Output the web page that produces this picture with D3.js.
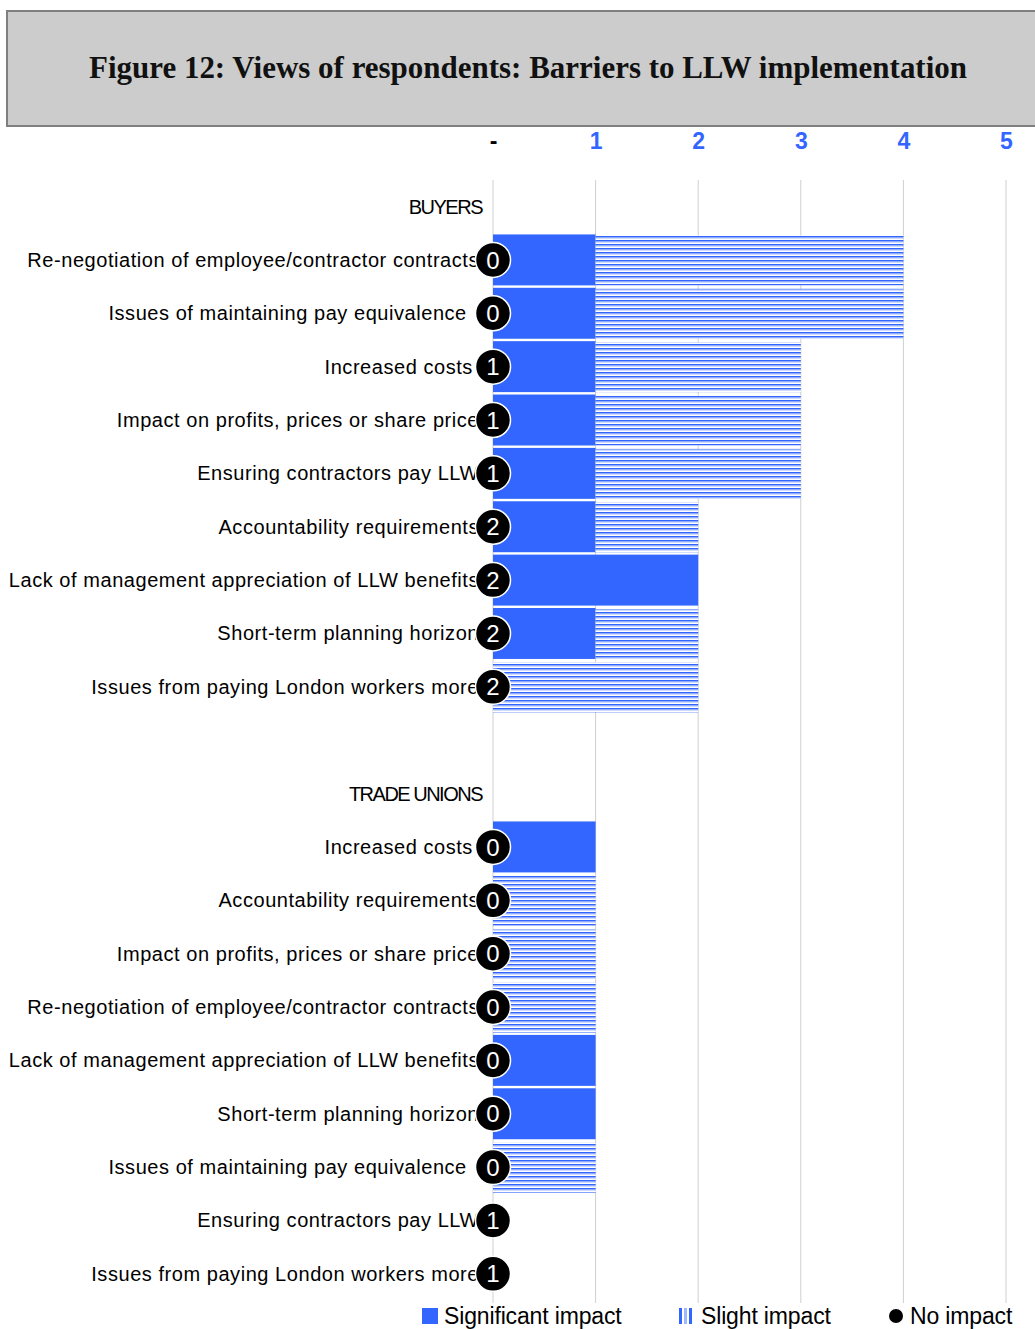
<!DOCTYPE html>
<html>
<head>
<meta charset="utf-8">
<script src="https://cdn.jsdelivr.net/npm/d3@7/dist/d3.min.js"></script>
<style>
  html, body { margin: 0; padding: 0; background: #fff; }
  svg { display: block; }
  text { font-family: "Liberation Sans", Arial, sans-serif; }
</style>
</head>
<body>
<svg id="chart" width="1035" height="1329"></svg>
<script>
// Survey responses: number of respondents rating each barrier
const groupNames = ["BUYERS", "TRADE UNIONS"];

const buyerBarriers = [
  "Re-negotiation of employee/contractor contracts",
  "Issues of maintaining pay equivalence  ",
  "Increased costs ",
  "Impact on profits, prices or share price",
  "Ensuring contractors pay LLW",
  "Accountability requirements",
  "Lack of management appreciation of LLW benefits",
  "Short-term planning horizon",
  "Issues from paying London workers more"
];
const buyerSignificant = [1, 1, 1, 1, 1, 1, 2, 1, 0];
const buyerSlight      = [3, 3, 2, 2, 2, 1, 0, 1, 2];
const buyerNone        = [0, 0, 1, 1, 1, 2, 2, 2, 2];

const unionBarriers = [
  "Increased costs ",
  "Accountability requirements",
  "Impact on profits, prices or share price",
  "Re-negotiation of employee/contractor contracts",
  "Lack of management appreciation of LLW benefits",
  "Short-term planning horizon",
  "Issues of maintaining pay equivalence  ",
  "Ensuring contractors pay LLW",
  "Issues from paying London workers more"
];
const unionSignificant = [1, 0, 0, 0, 1, 1, 0, 0, 0];
const unionSlight      = [0, 1, 1, 1, 0, 0, 1, 0, 0];
const unionNone        = [0, 0, 0, 0, 0, 0, 0, 1, 1];

const tickValues = [0, 1, 2, 3, 4, 5];
const tickLabels = ["-", "1", "2", "3", "4", "5"];
const legendLabels = ["Significant impact", "Slight impact", "No impact"];

const BLUE = "#3366ff";

// Build the row sequence: group header, its barriers, spacer, next group...
const rows = [];
rows.push({ key: "h0", type: "header", label: groupNames[0] });
buyerBarriers.forEach((b, i) => rows.push({ key: "b" + i, type: "bar", label: b,
  sig: buyerSignificant[i], slight: buyerSlight[i], none: buyerNone[i] }));
rows.push({ key: "gap", type: "gap", label: "" });
rows.push({ key: "h1", type: "header", label: groupNames[1] });
unionBarriers.forEach((b, i) => rows.push({ key: "u" + i, type: "bar", label: b,
  sig: unionSignificant[i], slight: unionSlight[i], none: unionNone[i] }));

const svg = d3.select("#chart");

// Striped fill for the "slight impact" segments
const defs = svg.append("defs");
const pat = defs.append("pattern")
  .attr("id", "stripes").attr("patternUnits", "userSpaceOnUse")
  .attr("width", 8).attr("height", 4);
pat.append("rect").attr("width", 8).attr("height", 4).attr("fill", "#ffffff");
pat.append("rect").attr("y", 0).attr("width", 8).attr("height", 1.6).attr("fill", BLUE);
pat.append("rect").attr("y", 1.6).attr("width", 8).attr("height", 0.9).attr("fill", "#9fb8fb");

// Title banner
svg.append("rect")
  .attr("x", 7).attr("y", 11).attr("width", 1040).attr("height", 115)
  .attr("fill", "#cccccc").attr("stroke", "#7f7f7f").attr("stroke-width", 2);
const title = svg.append("text")
  .attr("x", 528).attr("y", 78)
  .attr("text-anchor", "middle")
  .style("font-family", "'Liberation Serif', 'DejaVu Serif', serif")
  .style("font-weight", "bold")
  .style("font-size", "30px")
  .attr("fill", "#111")
  .text("Figure 12: Views of respondents: Barriers to LLW implementation");
const tw = title.node().getComputedTextLength();
title.style("font-size", (30 * 878 / tw).toFixed(2) + "px");

// Scales
const x = d3.scaleLinear().domain([0, 5]).range([493, 1006]);
const y = d3.scaleBand().domain(rows.map(r => r.key)).range([180, 1300.4]).paddingInner(0.045).paddingOuter(0.02);

// Vertical gridlines
svg.append("g").selectAll("line").data(tickValues).join("line")
  .attr("x1", d => x(d)).attr("x2", d => x(d))
  .attr("y1", 180).attr("y2", 1303)
  .attr("stroke", "#cfcfcf").attr("stroke-width", 1);

// Top axis labels
const axis = d3.axisTop(x).tickValues(tickValues).tickFormat((d, i) => tickLabels[i]).tickSize(0);
const axisG = svg.append("g").attr("transform", "translate(0,152)").call(axis);
axisG.select(".domain").remove();
axisG.selectAll("text")
  .style("font-family", "'Liberation Sans', Arial, sans-serif")
  .style("font-size", "23px").style("font-weight", "bold")
  .attr("fill", (d, i) => i === 0 ? "#000" : BLUE);

const barRows = rows.filter(r => r.type === "bar");

// Significant impact segments
svg.append("g").selectAll("rect").data(barRows.filter(r => r.sig > 0)).join("rect")
  .attr("x", x(0)).attr("y", d => y(d.key))
  .attr("width", d => x(d.sig) - x(0)).attr("height", y.bandwidth())
  .attr("fill", BLUE);

// Slight impact segments, stacked after the significant ones
svg.append("g").selectAll("rect").data(barRows.filter(r => r.slight > 0)).join("rect")
  .attr("x", d => x(d.sig)).attr("y", d => y(d.key) + 1)
  .attr("width", d => x(d.sig + d.slight) - x(d.sig)).attr("height", y.bandwidth() - 1)
  .attr("fill", "url(#stripes)");

// Row labels
svg.append("g").selectAll("text").data(rows.filter(r => r.type !== "gap")).join("text")
  .attr("x", d => d.type === "header" ? 482 : 479)
  .attr("y", d => y(d.key) + y.bandwidth() / 2)
  .attr("dy", "0.35em")
  .attr("text-anchor", "end")
  .style("white-space", "pre")
  .style("font-size", "20px")
  .style("letter-spacing", d => d.type === "header" ? "-1.5px" : "0.55px")
  .attr("fill", "#000")
  .text(d => d.label);

// "No impact" count markers
const marks = svg.append("g").selectAll("g").data(barRows).join("g")
  .attr("transform", d => `translate(${x(0)},${y(d.key) + y.bandwidth() / 2})`);
marks.append("circle").attr("r", 17.5).attr("fill", "#000").attr("stroke", "#fff").attr("stroke-width", 1.5);
marks.append("text")
  .attr("text-anchor", "middle").attr("dy", "0.36em")
  .style("font-size", "24px").attr("fill", "#fff")
  .text(d => d.none);

// Legend
const lg = svg.append("g").attr("transform", "translate(0,1316)");
lg.append("rect").attr("x", 422).attr("y", -8).attr("width", 16).attr("height", 16).attr("fill", BLUE);
[679, 684, 689].forEach(px =>
  lg.append("rect").attr("x", px).attr("y", -8).attr("width", 3).attr("height", 16)
    .attr("fill", px === 684 ? "#9fb8fb" : BLUE));
lg.append("circle").attr("cx", 896).attr("cy", 0).attr("r", 7).attr("fill", "#000");
[[444, legendLabels[0]], [701, legendLabels[1]], [910, legendLabels[2]]].forEach(([px, t]) =>
  lg.append("text").attr("x", px).attr("y", 0).attr("dy", "0.36em")
    .style("font-size", "23px").style("letter-spacing", "-0.15px")
    .attr("fill", "#000").text(t));
</script>
</body>
</html>
